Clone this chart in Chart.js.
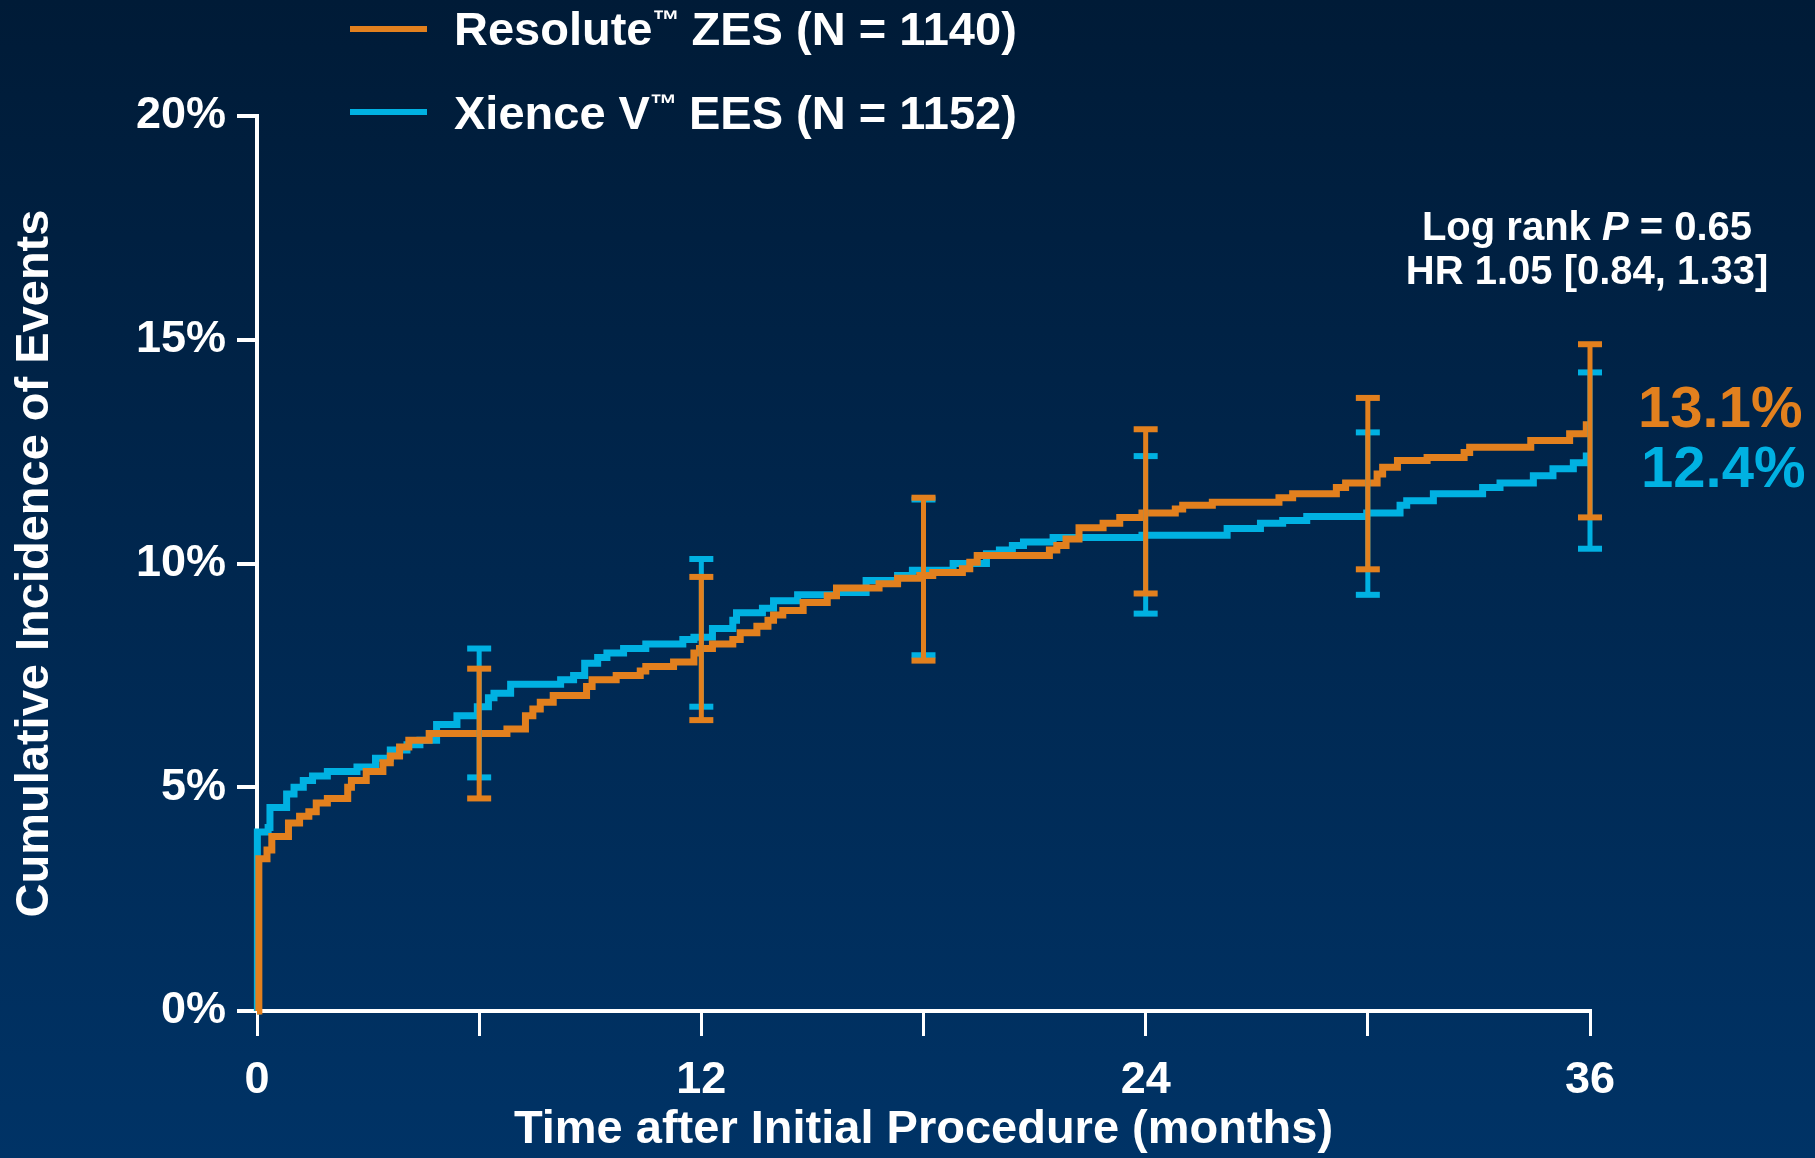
<!DOCTYPE html>
<html lang="en">
<head>
<meta charset="UTF-8">
<title>Cumulative Incidence of Events</title>
<script src="https://cdn.jsdelivr.net/npm/chart.js"></script>
<style>
  html, body { margin: 0; padding: 0; }
  body {
    width: 1815px;
    height: 1158px;
    overflow: hidden;
    background: linear-gradient(180deg, #001b37 0%, #00264d 45%, #003366 100%);
    font-family: 'Liberation Sans', Arial, sans-serif;
    font-weight: bold;
    color: #fff;
  }
  .wrap { position: relative; width: 1815px; height: 1158px; }
  canvas { position: absolute; left: 0; top: 0; }
  .txt { position: absolute; line-height: 1; white-space: nowrap; }
  .swatch { position: absolute; left: 350px; width: 77px; height: 6px; }
  sup { font-size: 27px; line-height: 1; vertical-align: top; position: relative; top: 2px; letter-spacing: -1px; }
</style>
</head>
<body>
<div class="wrap">
  <canvas id="chart" width="1815" height="1158"></canvas>

  <div class="swatch" style="top:26px; background:#e2801e;"></div>
  <div class="txt" style="left:454px; top:5px; font-size:47px;">Resolute<sup>™</sup> ZES (N = 1140)</div>
  <div class="swatch" style="top:109px; background:#00b1e2;"></div>
  <div class="txt" style="left:454px; top:89px; font-size:47px;">Xience V<sup>™</sup> EES (N = 1152)</div>

  <div class="txt" style="left:1587px; top:206px; font-size:40px; transform:translateX(-50%);">Log rank <i>P</i> = 0.65</div>
  <div class="txt" style="left:1587px; top:250px; font-size:40px; transform:translateX(-50%);">HR 1.05 [0.84, 1.33]</div>

  <div class="txt" style="left:1638px; top:378px; font-size:58px; color:#e2801e;">13.1%</div>
  <div class="txt" style="left:1641px; top:438px; font-size:58px; color:#00b1e2;">12.4%</div>
</div>

<script>
  // Resolute ZES: month of each step and cumulative incidence (%) after it
  const resoluteMonths = [0, 0.05, 0.27, 0.4, 0.85, 1.15, 1.4, 1.6, 1.9, 2.45, 2.55, 2.95, 3.4, 3.6, 3.85, 4.1, 4.65,
    6.75, 7.25, 7.45, 7.65, 8.0, 8.9, 9.05, 9.7, 10.35, 10.5, 11.25, 11.8, 11.95, 12.3, 12.85, 13.05, 13.5, 13.8,
    13.95, 14.2, 14.75, 15.4, 15.65, 16.8, 17.3, 17.9, 18.25, 19.05, 19.25, 19.45, 21.4, 21.6, 21.85, 22.2, 22.85,
    23.3, 23.9, 24.8, 25.0, 25.8, 27.6, 27.97, 29.15, 29.4, 30.25, 30.4, 30.8, 31.6, 32.6, 32.75, 34.4, 35.45, 35.9, 36];
  const resoluteRate = [0, 3.4, 3.6, 3.9, 4.2, 4.35, 4.45, 4.65, 4.75, 5.0, 5.15, 5.35, 5.55, 5.7, 5.9, 6.05, 6.2,
    6.3, 6.6, 6.75, 6.9, 7.05, 7.25, 7.4, 7.5, 7.6, 7.7, 7.8, 8.0, 8.1, 8.2, 8.3, 8.45, 8.6, 8.73,
    8.85, 8.95, 9.13, 9.28, 9.45, 9.55, 9.67, 9.73, 9.8, 9.88, 10.03, 10.18, 10.3, 10.4, 10.55, 10.8, 10.9,
    11.03, 11.13, 11.22, 11.3, 11.37, 11.47, 11.56, 11.7, 11.8, 12.0, 12.15, 12.3, 12.37, 12.48, 12.6, 12.75, 12.9, 13.1, 13.1];

  // Xience V EES
  const xienceMonths = [0, 0.01, 0.3, 0.35, 0.8, 1.0, 1.25, 1.5, 1.9, 2.7, 3.2, 3.6, 4.05, 4.4, 4.85, 5.4, 5.95,
    6.25, 6.4, 6.85, 8.2, 8.55, 8.85, 9.2, 9.45, 9.9, 10.5, 11.5, 11.8, 12.3, 12.85, 12.95, 13.65, 13.95, 14.6,
    15.65, 16.45, 17.3, 17.7, 18.8, 19.7, 20.05, 20.4, 20.7, 21.5, 23.9, 26.2, 27.1, 27.7, 28.35, 29.97, 30.87,
    31.05, 31.77, 33.1, 33.57, 34.47, 35.0, 35.55, 35.9, 36];
  const xienceRate = [0, 4.0, 4.1, 4.55, 4.85, 5.0, 5.15, 5.25, 5.35, 5.45, 5.65, 5.83, 5.95, 6.05, 6.4, 6.6, 6.8,
    7.0, 7.1, 7.3, 7.4, 7.5, 7.77, 7.9, 8.0, 8.1, 8.2, 8.3, 8.35, 8.55, 8.73, 8.9, 9.0, 9.17, 9.3,
    9.35, 9.62, 9.73, 9.85, 10.0, 10.22, 10.3, 10.4, 10.48, 10.58, 10.63, 10.78, 10.9, 10.96, 11.05, 11.13, 11.3,
    11.4, 11.56, 11.7, 11.8, 11.96, 12.12, 12.25, 12.4, 12.4];

  // confidence intervals drawn as error bars
  const ciMonths = [6, 12, 18, 24, 30, 36];
  const resoluteLo = [4.75, 6.5, 7.83, 9.33, 9.87, 11.03];
  const resoluteHi = [7.65, 9.7, 11.47, 13.0, 13.7, 14.9];
  const xienceLo = [5.22, 6.8, 7.95, 8.88, 9.3, 10.33];
  const xienceHi = [8.1, 10.1, 11.43, 12.4, 12.93, 14.27];

  const orange = '#e2801e';
  const cyan = '#00b1e2';

  function steps(t, v) {
    return t.map((x, i) => ({ x: x, y: v[i] }));
  }

  function bars(t, lo, hi) {
    const out = [];
    t.forEach((x, i) => {
      out.push({ x: x, y: lo[i] }, { x: x, y: hi[i] }, { x: x, y: null });
    });
    return out;
  }

  function errorSet(data, color) {
    return {
      data: data,
      borderColor: color,
      borderWidth: 5,
      pointStyle: 'line',
      pointRadius: 12,
      pointBorderWidth: 6,
      pointBorderColor: color,
      spanGaps: false,
      clip: false
    };
  }

  function kmSet(data, color) {
    return {
      data: data,
      borderColor: color,
      borderWidth: 7,
      stepped: 'before',
      pointRadius: 0,
      clip: false
    };
  }

  const tickFont = { size: 45, weight: 'bold', family: "'Liberation Sans', Arial, sans-serif" };
  const titleFont = { size: 47, weight: 'bold', family: "'Liberation Sans', Arial, sans-serif" };

  new Chart(document.getElementById('chart'), {
    type: 'line',
    data: {
      datasets: [
        errorSet(bars(ciMonths, resoluteLo, resoluteHi), orange),
        errorSet(bars(ciMonths, xienceLo, xienceHi), cyan),
        kmSet(steps(resoluteMonths, resoluteRate), orange),
        kmSet(steps(xienceMonths, xienceRate), cyan)
      ]
    },
    options: {
      responsive: false,
      animation: false,
      events: [],
      layout: { padding: { left: 0, top: 116, right: 225, bottom: 0 } },
      plugins: {
        legend: { display: false },
        tooltip: { enabled: false }
      },
      scales: {
        x: {
          type: 'linear',
          min: 0,
          max: 36,
          ticks: {
            stepSize: 6,
            autoSkip: false,
            maxRotation: 0,
            padding: 18,
            color: '#fff',
            font: tickFont,
            callback: v => (v % 12 === 0 ? String(v) : '')
          },
          grid: { drawOnChartArea: false, color: '#fff', lineWidth: 3, tickLength: 25 },
          border: { color: '#fff', width: 4 },
          title: {
            display: true,
            text: 'Time after Initial Procedure (months)',
            color: '#fff',
            font: titleFont,
            padding: 0
          },
          afterFit: s => { s.height = 147; }
        },
        y: {
          min: 0,
          max: 20,
          ticks: {
            stepSize: 5,
            padding: 11,
            color: '#fff',
            font: tickFont,
            callback: v => v + '%'
          },
          grid: { drawOnChartArea: false, color: '#fff', lineWidth: 4, tickLength: 20 },
          border: { color: '#fff', width: 4 },
          title: {
            display: true,
            text: 'Cumulative Incidence of Events',
            color: '#fff',
            font: titleFont,
            padding: { top: 7, bottom: 0 }
          },
          afterFit: s => { s.width = 257; }
        }
      }
    }
  });
</script>
</body>
</html>
